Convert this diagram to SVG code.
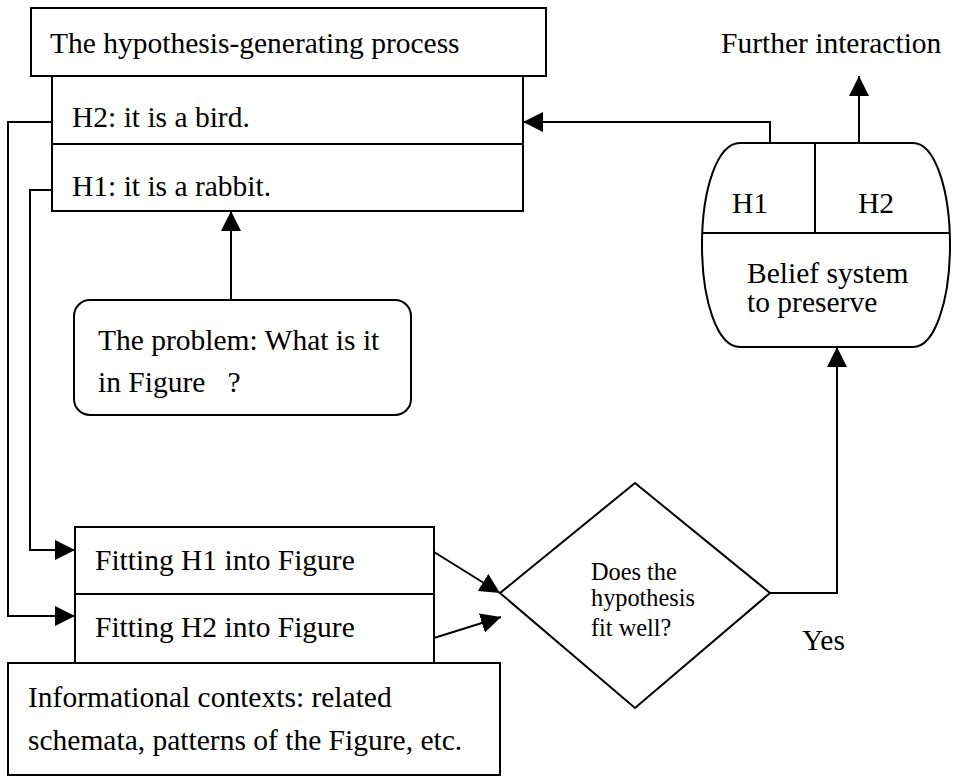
<svg xmlns="http://www.w3.org/2000/svg" width="954" height="777" viewBox="0 0 954 777">
  <style>
    .box { fill: #fff; stroke: #000; stroke-width: 2; }
    .line { fill: none; stroke: #000; stroke-width: 2; }
    text { font-family: "Liberation Serif", "Times New Roman", serif; font-size: 29.5px; fill: #000; white-space: pre; }
    .small { font-size: 24.3px; }
  </style>
  <defs>
    <marker id="arrow" viewBox="0 0 20 20" refX="20" refY="10" markerWidth="20" markerHeight="20" markerUnits="userSpaceOnUse" orient="auto">
      <path d="M0,0 L20,10 L0,20 Z" fill="#000"/>
    </marker>
  </defs>

  <rect width="954" height="777" fill="#fff"/>

  <!-- connectors -->
  <g id="connectors">
    <!-- H2 loop down to "Fitting H2" -->
    <polyline class="line" points="52,122 8,122 8,616 75,616" marker-end="url(#arrow)"/>
    <!-- H1 loop down to "Fitting H1" -->
    <polyline class="line" points="52,190 30,190 30,550 75,550" marker-end="url(#arrow)"/>
    <!-- problem up to hypotheses -->
    <line class="line" x1="231" y1="300" x2="231" y2="211" marker-end="url(#arrow)"/>
    <!-- fittings into decision -->
    <line class="line" x1="434" y1="552" x2="500" y2="593" marker-end="url(#arrow)"/>
    <line class="line" x1="434" y1="638" x2="501" y2="617" marker-end="url(#arrow)"/>
    <!-- yes branch up to belief system -->
    <polyline class="line" points="770,593 837,593 837,347" marker-end="url(#arrow)"/>
    <!-- belief system back to hypotheses -->
    <polyline class="line" points="770,143 770,122 523,122" marker-end="url(#arrow)"/>
    <!-- further interaction -->
    <line class="line" x1="859" y1="143" x2="859" y2="76" marker-end="url(#arrow)"/>
  </g>

  <g id="process">
    <rect class="box" x="31" y="8" width="515" height="68"/>
    <text x="50" y="53">The hypothesis-generating process</text>
  </g>

  <g id="hypotheses">
    <rect class="box" x="52" y="76" width="471" height="135"/>
    <line class="line" x1="52" y1="144" x2="523" y2="144"/>
    <text x="72" y="127">H2: it is a bird.</text>
    <text x="72" y="196">H1: it is a rabbit.</text>
  </g>

  <g id="problem">
    <rect class="box" x="74" y="300" width="337" height="115" rx="16" ry="16"/>
    <text x="98" y="350">The problem: What is it</text>
    <text x="98" y="392" xml:space="preserve">in Figure   ?</text>
  </g>

  <g id="belief">
    <path class="box" d="M740,143 H913 C935,143 950,190 950,245 C950,300 935,347 913,347 H740 C717,347 702,300 702,245 C702,190 717,143 740,143 Z"/>
    <line class="line" x1="815" y1="143" x2="815" y2="233"/>
    <line class="line" x1="703" y1="233" x2="949" y2="233"/>
    <text x="732" y="213">H1</text>
    <text x="858" y="213">H2</text>
    <text x="747" y="283">Belief system</text>
    <text x="747" y="312">to preserve</text>
  </g>

  <g id="further">
    <text x="721" y="53">Further interaction</text>
  </g>

  <g id="fitting">
    <rect class="box" x="75" y="527" width="359" height="136"/>
    <line class="line" x1="75" y1="594" x2="434" y2="594"/>
    <text x="95" y="570">Fitting H1 into Figure</text>
    <text x="95" y="637">Fitting H2 into Figure</text>
  </g>

  <g id="contexts">
    <rect class="box" x="8" y="663" width="492" height="112"/>
    <text x="28" y="707">Informational contexts: related</text>
    <text x="28" y="750">schemata, patterns of the Figure, etc.</text>
  </g>

  <g id="decision">
    <polygon class="box" points="635,483 770,593 635,708 500,593"/>
    <text class="small" x="591" y="580">Does the</text>
    <text class="small" x="591" y="606">hypothesis</text>
    <text class="small" x="591" y="636">fit well?</text>
  </g>

  <g id="yes">
    <text x="802" y="650">Yes</text>
  </g>
</svg>
